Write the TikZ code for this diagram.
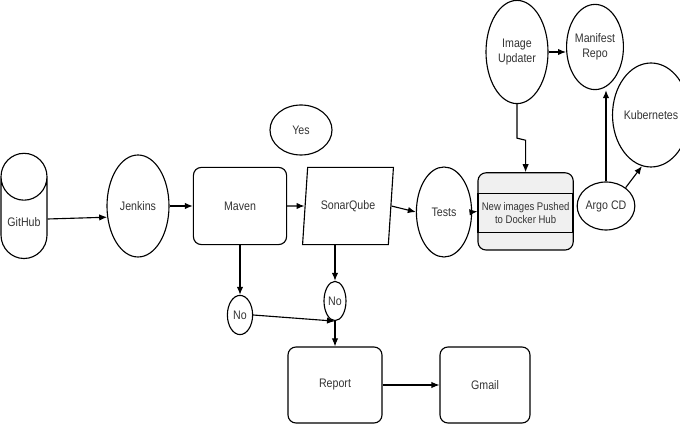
\documentclass[tikz,border=0pt]{standalone}
\usepackage{fontspec}
\setmainfont[FakeStretch=0.86]{Liberation Sans}
\usetikzlibrary{shapes.geometric,arrows.meta}

\begin{document}
\begin{tikzpicture}[
            every node/.style={font=\fontsize{8.8}{10.5}\selectfont, text=black!80, line width=0.8pt},
            stage/.style={ellipse, draw, inner sep=0pt},
            task/.style={rectangle, rounded corners=0.2cm, draw, minimum width=2.33cm, minimum height=1.93cm},
            flow/.style={-{Latex[length=2mm,width=1.6mm]}, line width=0.8pt}
        ]
            \useasboundingbox (0,0) rectangle (17,10.625);
            \node[cylinder, draw, shape border rotate=90, aspect=5, minimum width=1.15cm, minimum height=2.63cm, label={[yshift=0.08cm, font=\fontsize{8.8}{10.5}\selectfont, text=black!80]center:GitHub}] (github) at (0.6, 5.0) {};
            \node[stage, minimum width=1.55cm, minimum height=2.55cm] (jenkins) at (3.45, 5.475) {Jenkins};
            \node[task] (maven) at (6.0, 5.475) {Maven};
            \node[stage, minimum width=1.55cm, minimum height=1.25cm] (yes) at (7.525, 7.375) {Yes};
            \node[trapezium, draw, trapezium left angle=79, trapezium right angle=101, trapezium stretches=true, minimum width=2.28cm, minimum height=1.93cm] (sonar) at (8.7, 5.475) {SonarQube};
            \node[stage, minimum width=1.38cm, minimum height=2.25cm] (tests) at (11.1, 5.325) {Tests};
            \node[task, fill=gray!12, minimum width=2.38cm] (docker) at (13.14, 5.34) {};
            \node[rectangle, draw, line width=1.1pt, fill=gray!12, minimum width=2.38cm, minimum height=0.98cm, align=center, inner sep=1pt, font=\fontsize{7.9}{9.5}\selectfont] (pushed) at (13.14, 5.3) {New images Pushed\\to Docker Hub};
            \node[stage, minimum width=1.55cm, minimum height=2.58cm, align=center] (updater) at (12.925, 9.325) {Image\\Updater};
            \node[stage, minimum width=1.15cm, minimum height=2.13cm, align=center] (manifest) at (14.875, 9.45) {Manifest\\Repo};
            \node[stage, minimum width=1.33cm, minimum height=2.6cm] (kube) at (16.275, 7.75) {Kubernetes};
            \node[stage, minimum width=1.43cm, minimum height=1.2cm] (argo) at (15.15, 5.475) {Argo CD};
            \node[stage, minimum width=0.63cm, minimum height=0.98cm] (no1) at (6.0, 2.75) {No};
            \node[stage, minimum width=0.55cm, minimum height=0.98cm] (no2) at (8.375, 3.1) {No};
            \node[task, minimum width=2.35cm, minimum height=1.9cm] (report) at (8.375, 1.0) {Report};
            \node[task, minimum width=2.25cm, minimum height=1.9cm] (gmail) at (12.125, 1.0) {Gmail};

            \draw[flow] ([yshift=0.15cm]github.east) -- (jenkins.200);
            \draw[flow] (jenkins.east) -- (maven.west);
            \draw[flow] (maven.east) -- (sonar.west);
            \draw[flow] (sonar.east) -- (tests.west);
            \draw[flow] (tests.east) -- (docker.west);
            \draw[flow] (updater.south) -- ++(0,-0.85) -- ([yshift=0.8cm]docker.north) -- (docker.north);
            \draw[flow] (updater.east) -- (updater.east -| manifest.west);
            \draw[flow] (argo.north) -- (argo.north |- manifest.south);
            \draw[flow] (argo.43) -- (kube.260);
            \draw[flow] (maven.south) -- (no1.north);
            \draw[flow] (no2.north |- sonar.south) -- (no2.north);
            \draw[flow] (no1.east) -- (no2.south);
            \draw[flow] (no2.south) -- (report.north);
            \draw[flow] (report.east) -- (gmail.west);

        \end{tikzpicture}
\end{document}
